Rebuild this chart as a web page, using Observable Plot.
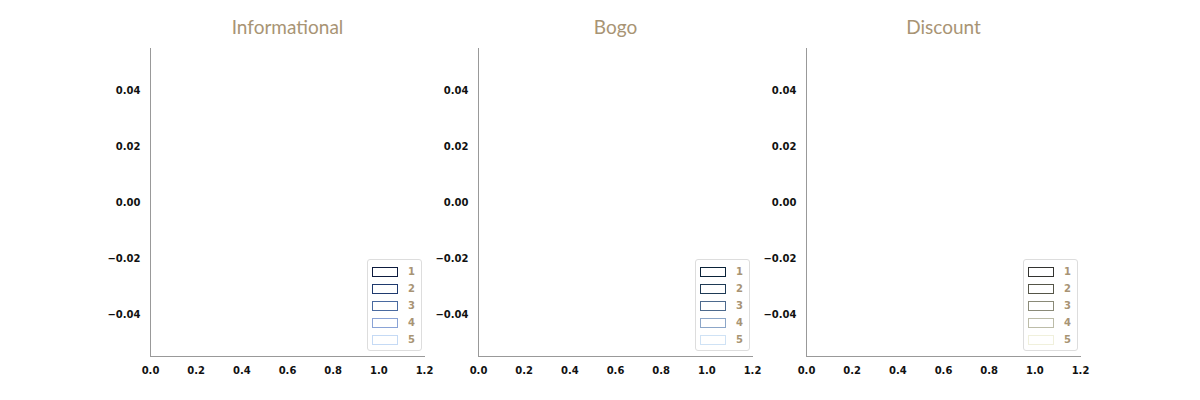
<!DOCTYPE html>
<html>
<head>
<meta charset="utf-8">
<script src="https://cdn.jsdelivr.net/npm/d3@7"></script>
<script src="https://cdn.jsdelivr.net/npm/@observablehq/plot@0.6"></script>
<style>
  body { margin: 0; background: #fff; }
  #chart { position: relative; width: 1200px; height: 400px; }
  .panel { position: absolute; top: 0; }
  .legend { position: absolute; border: 1px solid #ddd; border-radius: 3px; background: #fff;
            padding: 3px 6px 2px 4px; font: bold 10px "DejaVu Sans", sans-serif; color: #a89474; }
  .legend div { display: flex; align-items: center; height: 17px; }
  .legend span.sw { display: inline-block; width: 24px; height: 8px; border: 1.5px solid; margin-right: 10px; }
</style>
</head>
<body>
<div id="chart"></div>
<script>
const panels = ["Informational", "Bogo", "Discount"];
const groups = ["1", "2", "3", "4", "5"];
const palettes = [
  ["#0d1b3e", "#1f3a6e", "#4a6aa0", "#8aa3d6", "#c5daf5"],
  ["#0a2238", "#1e3a55", "#4d6a8d", "#8ca6c8", "#cfe2f5"],
  ["#333330", "#555548", "#8a8a78", "#bcbca8", "#f0f0dc"]
];
const xTicks = [0, 0.2, 0.4, 0.6, 0.8, 1.0, 1.2];
const yTicks = [-0.04, -0.02, 0, 0.02, 0.04];
const series = []; // no data drawn in the reference

const chart = document.getElementById("chart");
panels.forEach((name, i) => {
  const wrap = document.createElement("div");
  wrap.className = "panel";
  wrap.style.left = (100 + i * 328) + "px";
  const plot = Plot.plot({
    width: 344,
    height: 400,
    marginTop: 48,
    marginBottom: 44,
    marginLeft: 50,
    marginRight: 20,
    style: { fontFamily: "DejaVu Sans", fontSize: "10px", fontWeight: "bold", color: "#111", overflow: "visible" },
    x: { domain: [0, 1.2], ticks: xTicks, tickSize: 0, tickPadding: 10, tickFormat: d3.format(".1f"), label: null },
    y: { domain: [-0.055, 0.055], ticks: yTicks, tickSize: 0, tickPadding: 10,
         tickFormat: d => d3.format(".2f")(d).replace("-", "\u2212"), label: null },
    marks: [
      Plot.frame({ anchor: "left", stroke: "#999" }),
      Plot.frame({ anchor: "bottom", stroke: "#999" }),
      Plot.text([name], { frameAnchor: "top", dy: -15, lineAnchor: "bottom", text: d => d, fill: "#a89474",
        fontSize: 19, fontWeight: "normal", fontFamily: "Lato" }),
      Plot.line(series, { x: "x", y: "y", stroke: "g" })
    ]
  });
  wrap.appendChild(plot);
  const leg = document.createElement("div");
  leg.className = "legend";
  leg.style.left = "267px";
  leg.style.top = "259px";
  groups.forEach((g, k) => {
    const row = document.createElement("div");
    row.innerHTML = `<span class="sw" style="border-color:${palettes[i][k]}"></span>${g}`;
    leg.appendChild(row);
  });
  wrap.appendChild(leg);
  chart.appendChild(wrap);
});
</script>
</body>
</html>
